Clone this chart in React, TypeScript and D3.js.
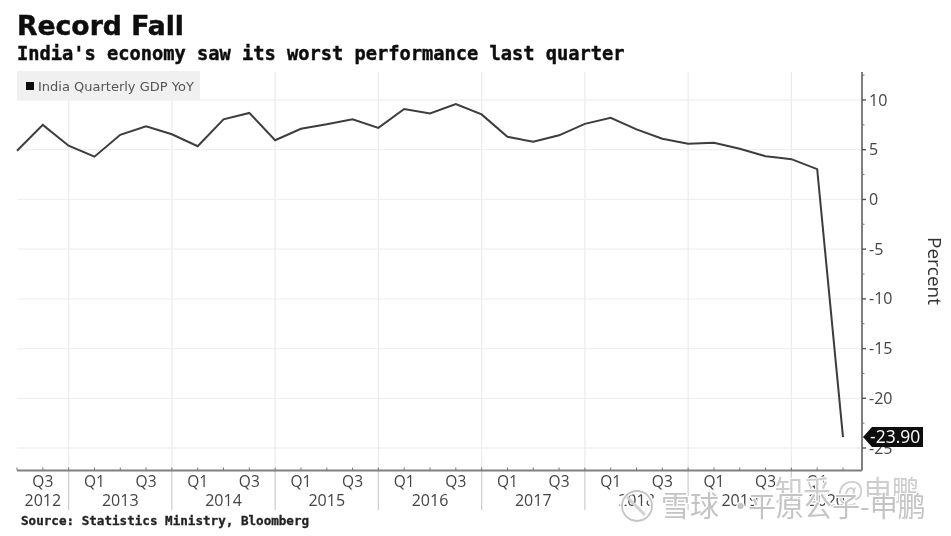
import React from "react";
import * as d3 from "d3";

const gdpValues = [4.9, 7.5, 5.4, 4.3, 6.5, 7.35, 6.55, 5.35, 8.05, 8.7, 5.95, 7.1, 7.55, 8.05, 7.2, 9.1, 8.65, 9.6, 8.55, 6.3, 5.8, 6.45, 7.6, 8.2, 7.05, 6.1, 5.6, 5.7, 5.1, 4.35, 4.05, 3.05, -23.9];
const quarterLabels = ["", "Q3", "", "Q1", "", "Q3", "", "Q1", "", "Q3", "", "Q1", "", "Q3", "", "Q1", "", "Q3", "", "Q1", "", "Q3", "", "Q1", "", "Q3", "", "Q1", "", "Q3", "", "Q1", ""];
const yearLabels = ["2012", "2013", "2014", "2015", "2016", "2017", "2018", "2019", "2020"];
const yearBoundaries = [2, 6, 10, 14, 18, 22, 26, 30];
const yTicks = [10, 5, 0, -5, -10, -15, -20, -25];
const yMinorTicks = [12.5, 7.5, 2.5, -2.5, -7.5, -12.5, -17.5, -22.5];

const TITLE = "Record Fall";
const SUBTITLE = "India's economy saw its worst performance last quarter";
const SOURCE = "Source: Statistics Ministry, Bloomberg";
const LEGEND = "India Quarterly GDP YoY";
const UNIT = "Percent";
const LAST_LABEL = "-23.90";

const LEFT = 17, RIGHT = 862, TOP = 72, BOTTOM = 470.5;
const x = d3.scaleLinear().domain([0, 32]).range([LEFT, 843]);
const y = d3.scaleLinear().domain([10, -25]).range([100, 448]);
const line = d3.line<number>().x((_, i) => x(i)).y((d) => y(d));

const sans = "'Open Sans', 'Noto Sans', sans-serif";
const mono = "'DejaVu Sans Mono', monospace";
const cjk = "'Noto Sans CJK SC', sans-serif";

export default function App() {
  const edges = [LEFT, ...yearBoundaries.map((b) => x(b)), RIGHT];
  const last = gdpValues[gdpValues.length - 1];
  const ly = y(last);
  const halo = { stroke: "#fff", strokeWidth: 2.2, paintOrder: "stroke" } as React.CSSProperties;
  return (
    <svg width={951} height={536} style={{ position: "absolute", left: 0, top: 0, display: "block", background: "#fff" }}>
      <defs>
        <filter id="soft" x="-2%" y="-2%" width="104%" height="104%">
          <feGaussianBlur stdDeviation="0.55" />
        </filter>
      </defs>
      <g filter="url(#soft)">
        <text x={17} y={35} fontFamily="'DejaVu Sans', sans-serif" fontWeight={700} fontSize={27} fill="#111" stroke="#111" strokeWidth={0.5} textLength={167} lengthAdjust="spacingAndGlyphs">{TITLE}</text>
        <text x={17} y={60} fontFamily={mono} fontWeight={700} fontSize={18.7} fill="#111" stroke="#111" strokeWidth={0.45}>{SUBTITLE}</text>

        {yTicks.map((t) => (
          <line key={t} x1={LEFT} x2={RIGHT} y1={y(t)} y2={y(t)} stroke="#f0f0f0" strokeWidth={1.3} />
        ))}
        {yearBoundaries.map((b) => (
          <line key={b} x1={x(b)} x2={x(b)} y1={TOP} y2={BOTTOM} stroke="#ececec" strokeWidth={1.3} />
        ))}
        {yearBoundaries.map((b) => (
          <line key={"s" + b} x1={x(b)} x2={x(b)} y1={BOTTOM} y2={510} stroke="#d0d0d0" strokeWidth={1.3} />
        ))}

        <rect x={LEFT} y={71} width={183} height={29} fill="#f0f0f0" />
        <rect x={26} y={82} width={8} height={8} fill="#111" />
        <text x={38} y={91} fontFamily="'DejaVu Sans', sans-serif" fontSize={13} fill="#555">{LEGEND}</text>

        <path d={line(gdpValues) ?? ""} fill="none" stroke="#3c3c3c" strokeWidth={2} strokeLinejoin="miter" />

        <line x1={LEFT} x2={RIGHT} y1={BOTTOM} y2={BOTTOM} stroke="#808080" strokeWidth={2} />
        <line x1={RIGHT} x2={RIGHT} y1={TOP} y2={BOTTOM} stroke="#808080" strokeWidth={2} />

        {gdpValues.map((_, i) => (
          <line key={i} x1={x(i)} x2={x(i)} y1={BOTTOM} y2={BOTTOM - 3} stroke="#777" strokeWidth={1} />
        ))}
        {quarterLabels.map((q, i) => q && (
          <text key={i} x={x(i)} y={486.5} textAnchor="middle" fontFamily={sans} fontSize={15.5} fill="#444">{q}</text>
        ))}
        {yearLabels.map((yr, i) => (
          <text key={yr} x={(edges[i] + edges[i + 1]) / 2} y={506} textAnchor="middle" fontFamily={sans} fontSize={16} fill="#444">{yr}</text>
        ))}

        {yTicks.map((t) => (
          <g key={t}>
            <line x1={RIGHT} x2={RIGHT + 4} y1={y(t)} y2={y(t)} stroke="#555" strokeWidth={1.4} />
            <text x={RIGHT + 7} y={y(t) + 5.5} fontFamily={sans} fontSize={16} fill="#444">{t}</text>
          </g>
        ))}
        {yMinorTicks.map((t) => (
          <line key={t} x1={RIGHT} x2={RIGHT + 2.5} y1={y(t)} y2={y(t)} stroke="#777" strokeWidth={1} />
        ))}

        <path d={d3.line()([[RIGHT + 1, ly], [RIGHT + 10, ly - 10], [923, ly - 10], [923, ly + 10], [RIGHT + 10, ly + 10]]) + "Z"} fill="#0b0b0b" />
        <text x={870} y={ly + 6} fontFamily={sans} fontSize={17.5} fill="#fff">{LAST_LABEL}</text>

        <text transform={`translate(928,271) rotate(90)`} textAnchor="middle" fontFamily={sans} fontSize={19} fill="#333">{UNIT}</text>

        <text x={21} y={525} fontFamily={mono} fontWeight={700} fontSize={12.6} fill="#222" stroke="#222" strokeWidth={0.3}>{SOURCE}</text>

        <g>
          <circle cx={637} cy={506} r={15} fill="none" stroke="#fff" strokeWidth={5} />
          <circle cx={637} cy={506} r={15} fill="none" stroke="#c4c4c4" strokeWidth={1.8} />
          <path d={d3.line()([[627, 497], [645, 515]]) ?? ""} stroke="#d0d0d0" strokeWidth={3} fill="none" />
          <text x={775} y={501} fontFamily={cjk} fontSize={28} fill="#cdcdcd" style={halo}>知乎 @申鹏</text>
          <text x={661} y={517} fontFamily={cjk} fontSize={29} fill="#c4c4c4" style={halo}>雪球</text>
          <text x={726} y={517} fontFamily={cjk} fontSize={29} fill="#c4c4c4" style={halo}>·</text>
          <text x={748} y={517} fontFamily={cjk} fontSize={28} fill="#c4c4c4" style={halo}>平原公子-申鹏</text>
        </g>
      </g>
    </svg>
  );
}
